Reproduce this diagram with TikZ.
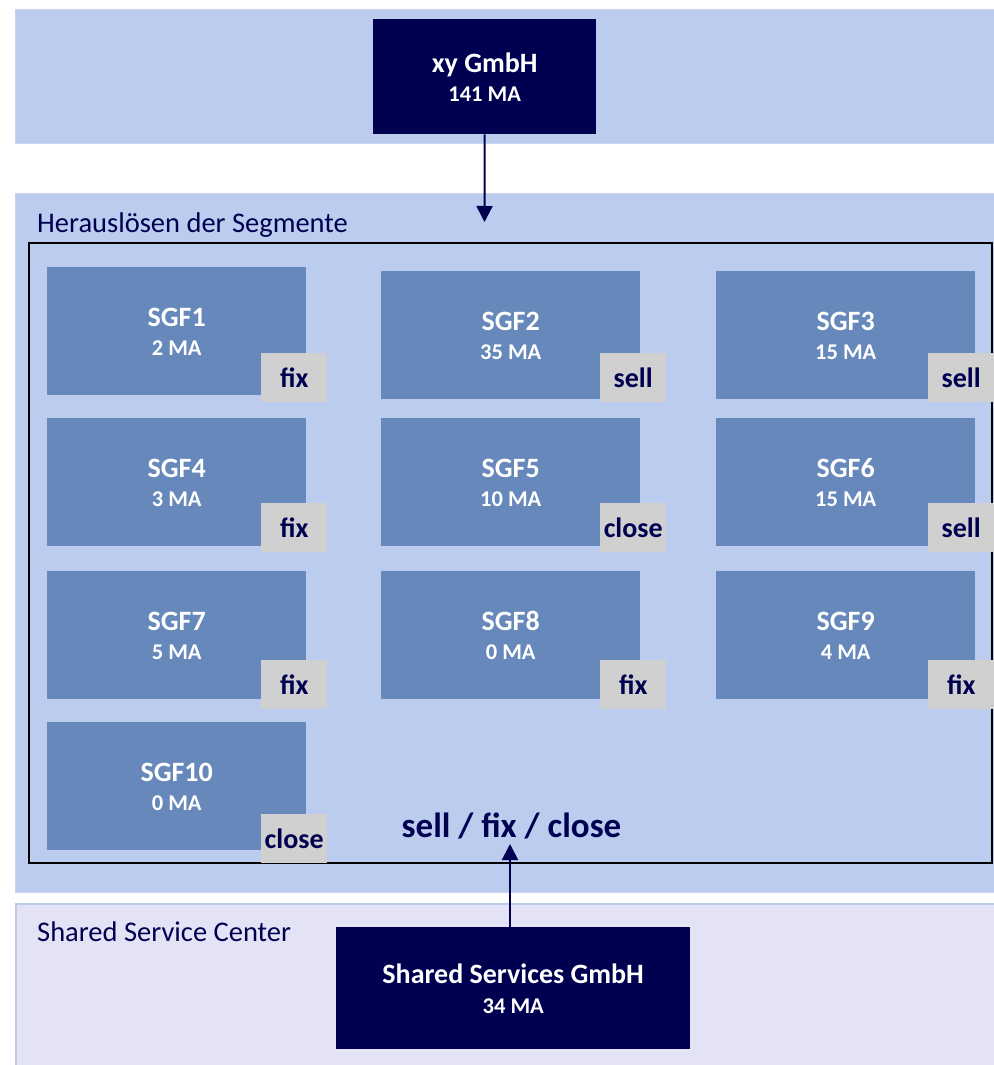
\documentclass[tikz,border=0pt]{standalone}
\usepackage{fontspec}
\setmainfont{Carlito}
\usetikzlibrary{arrows.meta}
\definecolor{band}{HTML}{BBCCEE}
\definecolor{bandedge}{HTML}{C9D5F0}
\definecolor{sgf}{HTML}{6688BB}
\definecolor{tagc}{HTML}{D0D0D0}
\definecolor{navy}{HTML}{000050}
\definecolor{ssc}{HTML}{E3E3F5}
\definecolor{sscedge}{HTML}{BDCBEB}
\tikzset{
  bandbox/.style={fill=band, draw=bandedge, line width=0.8pt},
  sscband/.style={fill=ssc, draw=sscedge, line width=2pt},
  frame/.style={draw=black, line width=2.5pt},
  sgfbox/.style={fill=sgf, draw=none, inner sep=0pt, minimum width=259pt, minimum height=128pt, anchor=north west},
  tagbox/.style={fill=tagc, draw=none, inner sep=0pt, minimum width=66pt, minimum height=49pt, anchor=north west},
  titletext/.style={text=white, inner sep=0pt, anchor=base, font=\bfseries\fontsize{28}{30}\selectfont},
  subtext/.style={text=white, inner sep=0pt, anchor=base, font=\bfseries\fontsize{22.5}{24}\selectfont},
  tagtext/.style={text=navy, inner sep=0pt, anchor=base, font=\bfseries\fontsize{28}{30}\selectfont},
  labeltext/.style={text=navy, inner sep=0pt, anchor=base west, font=\fontsize{28.5}{30}\selectfont},
  darkbox/.style={fill=navy, draw=none, inner sep=0pt, anchor=north west},
  link/.style={draw=navy, line width=2pt, -{Triangle[length=16pt,width=16pt]}},
}
\newcommand{\SGFnode}[8]{%
  \node[sgfbox] (#1) at (#2,#3) {};
  \node[titletext] (#1title) at ([yshift=4.5pt]#1.center) {#4};
  \node[subtext] (#1sub) at ([yshift=-24.5pt]#1.center) {#5};
  \node[tagbox] (#1tag) at (#6,#7) {};
  \node[tagtext] (#1tagtext) at ([yshift=-9.5pt]#1tag.center) {#8};
}
\begin{document}
\begin{tikzpicture}[x=1pt,y=-1pt]
\useasboundingbox (0,0) rectangle (993,1065);
% bands
\fill[white] (0,0) rectangle (993,1065);
\path[bandbox] (15,9) rectangle (995,143);
\path[bandbox] (15,193) rectangle (995,892);
\path[sscband] (16,904) rectangle (995,1068);
% labels
\node[labeltext] (lblseg) at (37,232) {Herauslösen der Segmente};
\node[labeltext] (lblssc) at (37,941) {Shared Service Center};
% frame
\path[frame] (29,243) rectangle (992,863);
% top company
\node[darkbox, minimum width=223pt, minimum height=115pt] (xy) at (373,19) {};
\node[titletext] (xytitle) at ([yshift=4.5pt]xy.center) {xy GmbH};
\node[subtext] (xysub) at ([yshift=-24.5pt]xy.center) {141 MA};
% SGF boxes
\SGFnode{s1}{47}{267}{SGF1}{2 MA}{261}{353}{fix}
\SGFnode{s2}{381}{271}{SGF2}{35 MA}{600}{353}{sell}
\SGFnode{s3}{716}{271}{SGF3}{15 MA}{928}{353}{sell}
\SGFnode{s4}{47}{418}{SGF4}{3 MA}{261}{503}{fix}
\SGFnode{s5}{381}{418}{SGF5}{10 MA}{600}{503}{close}
\SGFnode{s6}{716}{418}{SGF6}{15 MA}{928}{503}{sell}
\SGFnode{s7}{47}{571}{SGF7}{5 MA}{261}{660}{fix}
\SGFnode{s8}{381}{571}{SGF8}{0 MA}{600}{660}{fix}
\SGFnode{s9}{716}{571}{SGF9}{4 MA}{928}{660}{fix}
\SGFnode{s10}{47}{722}{SGF10}{0 MA}{261}{814}{close}
% sell / fix / close
\node[text=navy, inner sep=0pt, anchor=base, font=\bfseries\fontsize{35}{38}\selectfont] (sfc) at (511.5,837) {sell / fix / close};
% shared services
\node[darkbox, minimum width=354pt, minimum height=122pt] (ssg) at (336,927) {};
\node[titletext] (ssgtitle) at ([yshift=5pt]ssg.center) {Shared Services GmbH};
\node[subtext] (ssgsub) at ([yshift=-25pt]ssg.center) {34 MA};
% connectors
\coordinate (segtop) at (484.5,222);
\coordinate (sfcbot) at (510,844);
\draw[link] (xy.south) -- (segtop);
\draw[link] (ssg.north -| sfcbot) -- (sfcbot);
\end{tikzpicture}
\end{document}
